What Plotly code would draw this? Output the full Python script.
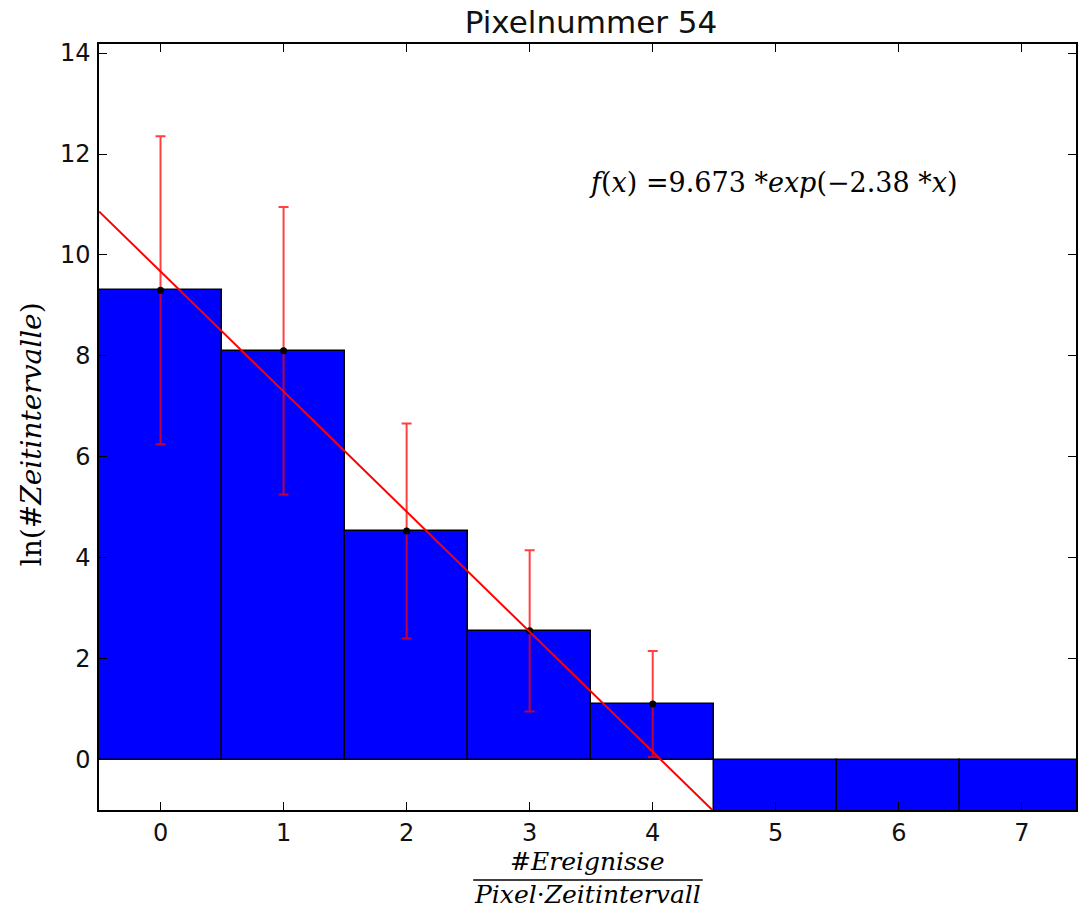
import plotly.graph_objects as go

# Data
bin_centers = [0, 1, 2, 3, 4, 5, 6, 7]
ln_counts = [9.30, 8.10, 4.53, 2.55, 1.10, -20, -20, -20]  # last three: ln(0) -> off-scale
point_x = [0, 1, 2, 3, 4]
point_y = [9.30, 8.10, 4.53, 2.55, 1.10]
point_err = [3.05, 2.85, 2.13, 1.60, 1.05]
fit_x = [-0.5, 4.6]
fit_y = [10.863, -1.275]
x_ticks = [0, 1, 2, 3, 4, 5, 6, 7]
y_ticks = [0, 2, 4, 6, 8, 10, 12, 14]

title_text = "Pixelnummer 54"
eq_text = "<i>f</i>(<i>x</i>) =9.673 *<i>exp</i>(−2.38 *<i>x</i>)"

W, H = 1078, 908
L, R, T, B = 99, 0, 44, 98
X_RANGE = [-0.5, 7.44]
Y_RANGE = [-1, 14.18]
pw, ph = W - L - R, H - T - B


def px_x(px):
    return (px - L) / pw


def px_y(py):
    return (H - B - py) / ph


fig = go.Figure()

fig.add_trace(go.Bar(
    x=bin_centers, y=ln_counts, width=1.0,
    marker=dict(color="#0000ff", line=dict(color="black", width=1.5)),
    showlegend=False,
))

fig.add_trace(go.Scatter(
    x=point_x, y=point_y, mode="markers",
    marker=dict(color="black", size=7),
    error_y=dict(type="data", array=point_err, visible=True,
                 color="rgba(255,0,0,0.75)", thickness=2, width=5),
    showlegend=False,
))

fig.add_trace(go.Scatter(
    x=fit_x, y=fit_y, mode="lines",
    line=dict(color="red", width=2),
    showlegend=False,
))

axis_common = dict(
    showline=True, linecolor="black", linewidth=1.5, mirror="allticks",
    ticks="inside", ticklen=8, tickwidth=1, tickcolor="black",
    showgrid=False, zeroline=False,
    tickfont=dict(family="DejaVu Sans", size=24, color="#111111"),
)

fig.update_xaxes(range=X_RANGE, tickvals=x_ticks, ticklabelstandoff=0, **axis_common)
fig.update_yaxes(range=Y_RANGE, tickvals=y_ticks, ticklabelstandoff=2, **axis_common)

serif = "DejaVu Serif"
fig.update_layout(
    width=W, height=H,
    margin=dict(l=L, r=R, t=T, b=B),
    plot_bgcolor="white", paper_bgcolor="white",
    bargap=0,
    title=dict(text=title_text, x=px_x(592), xanchor="center", xref="paper",
               y=1 - 22 / H, yanchor="middle",
               font=dict(family="DejaVu Sans", size=31, color="#111111")),
    annotations=[
        dict(text=eq_text, x=px_x(775), y=px_y(183), xref="paper", yref="paper",
             xanchor="center", yanchor="middle", showarrow=False,
             font=dict(family=serif, size=27, color="black")),
        dict(text="<i>#Ereignisse</i>", x=px_x(589), y=px_y(861), xref="paper", yref="paper",
             xanchor="center", yanchor="middle",
             showarrow=False, font=dict(family=serif, size=25, color="black")),
        dict(text="<i>Pixel</i>·<i>Zeitintervall</i>", x=px_x(589), y=px_y(894), xref="paper", yref="paper",
             xanchor="center", yanchor="middle",
             showarrow=False, font=dict(family=serif, size=25, color="black")),
        dict(text="ln(<i>#Zeitintervalle</i>)", x=px_x(31), y=px_y(434), xref="paper", yref="paper",
             xanchor="center", yanchor="middle",
             textangle=-90, showarrow=False,
             font=dict(family=serif, size=28, color="black")),
    ],
)

fig.add_shape(type="line", xref="paper", yref="paper",
              x0=px_x(474), x1=px_x(704),
              y0=px_y(880), y1=px_y(880),
              line=dict(color="black", width=1.5))

fig.write_html("out.html",
               config={"displayModeBar": False},
               post_script="document.body.style.margin='0';document.body.style.overflow='hidden';")
